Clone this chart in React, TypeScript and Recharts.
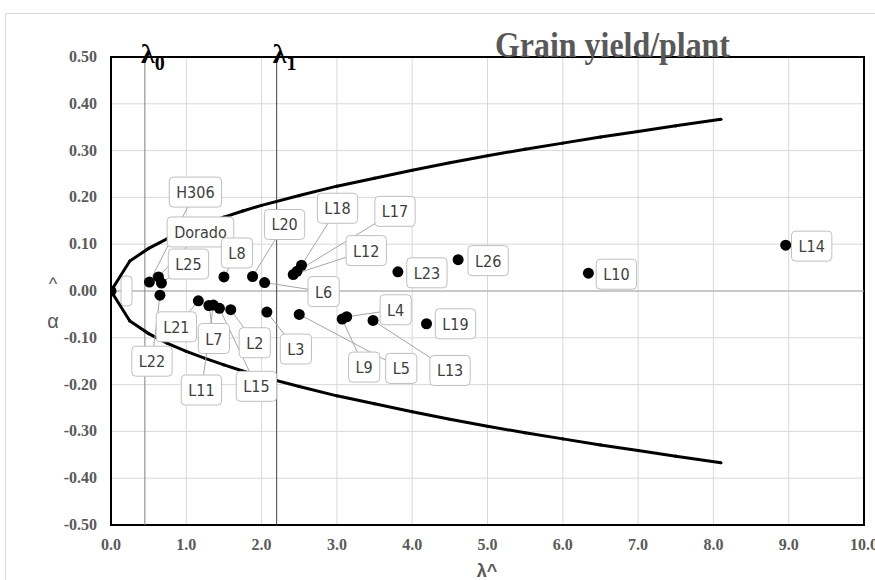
import React from "react";
import {
  ScatterChart,
  Scatter,
  XAxis,
  YAxis,
  CartesianGrid,
  ReferenceLine,
  ReferenceArea,
} from "recharts";

// genotypes and their (lambda^, alpha^) estimates
const genotypes = [
  "", "H306", "Dorado", "L25", "L22", "L8", "L20", "L6", "L12", "L17", "L18",
  "L23", "L26", "L4", "L9", "L5", "L13", "L19", "L3", "L21", "L7", "L11",
  "L15", "L2", "L10", "L14",
];
const lambdaHat = [
  0.0, 0.51, 0.63, 0.67, 0.65, 1.5, 1.88, 2.04, 2.42, 2.47, 2.53,
  3.81, 4.61, 3.13, 3.07, 2.5, 3.48, 4.19, 2.07, 1.16, 1.3, 1.36,
  1.44, 1.59, 6.34, 8.96,
];
const alphaHat = [
  0.0, 0.019, 0.03, 0.017, -0.009, 0.03, 0.031, 0.018, 0.035, 0.042, 0.055,
  0.041, 0.067, -0.055, -0.06, -0.05, -0.063, -0.07, -0.045, -0.021, -0.031, -0.03,
  -0.037, -0.04, 0.038, 0.098,
];

// confidence boundary curves
const curveLambda = [
  0, 0.25, 0.5, 0.75, 1, 1.25, 1.5, 1.75, 2, 2.5, 3, 3.5, 4, 4.5, 5, 5.5, 6,
  6.5, 7, 7.5, 8.1,
];
const curveUpper = [
  0, 0.064, 0.091, 0.112, 0.129, 0.144, 0.158, 0.171, 0.183, 0.204, 0.224,
  0.241, 0.258, 0.274, 0.289, 0.303, 0.316, 0.329, 0.341, 0.353, 0.367,
];
const curveLower = [
  0, -0.064, -0.091, -0.112, -0.129, -0.144, -0.158, -0.171, -0.183, -0.204,
  -0.224, -0.241, -0.258, -0.274, -0.289, -0.303, -0.316, -0.329, -0.341,
  -0.353, -0.367,
];

const lambda0 = 0.45;
const lambda1 = 2.2;

const xTicks = [0, 1, 2, 3, 4, 5, 6, 7, 8, 9, 10];
const yTicks = [-0.5, -0.4, -0.3, -0.2, -0.1, 0, 0.1, 0.2, 0.3, 0.4, 0.5];

// label box offsets (px from the dot) – layout only
const labelOffset: Record<string, [number, number]> = {
  "": [15.5, 0],
  H306: [46, -90],
  Dorado: [42, -45],
  L25: [27, -19],
  L22: [-8, 66],
  L8: [13, -24],
  L20: [32, -52],
  L6: [59, 9],
  L12: [73, -24],
  L17: [98, -60],
  L18: [36, -57],
  L23: [29, 1],
  L26: [30, 1],
  L4: [49, -7],
  L9: [22, 48],
  L5: [102, 54],
  L13: [77, 50],
  L19: [29, 0],
  L3: [29, 37],
  L21: [-22, 26],
  L7: [5, 33],
  L11: [-12, 85],
  L15: [37, 78],
  L2: [24, 33],
  L10: [28, 1],
  L14: [26, 1],
};
const noLeader = new Set(["", "L10", "L14", "L19", "L23", "L26"]);

const points = genotypes.map((name, i) => ({
  name,
  x: lambdaHat[i],
  y: alphaHat[i],
}));
const upper = curveLambda.map((x, i) => ({ x, y: curveUpper[i] }));
const lower = curveLambda.map((x, i) => ({ x, y: curveLower[i] }));

const labelFont = "'DejaVu Sans Condensed', 'Liberation Sans Narrow', sans-serif";
const labelSize = 16;
const serif = "'Liberation Serif', 'Times New Roman', serif";
const gray = "#595959";

let ctx: CanvasRenderingContext2D | null = null;
function measure(s: string) {
  if (!ctx && typeof document !== "undefined") {
    ctx = document.createElement("canvas").getContext("2d");
  }
  if (!ctx) return s.length * 9;
  ctx.font = `${labelSize}px ${labelFont}`;
  return ctx.measureText(s).width;
}

const Leader = (props: any) => {
  const { cx, cy, payload } = props;
  const name = payload.name;
  if (noLeader.has(name)) return <g />;
  const [dx, dy] = labelOffset[name] || [0, 0];
  return (
    <line x1={cx} y1={cy} x2={cx + dx} y2={cy + dy} stroke="#a6a6a6" strokeWidth={1} />
  );
};

const Dot = (props: any) => <circle cx={props.cx} cy={props.cy} r={5.5} fill="#000" />;

const Box = (props: any) => {
  const { cx, cy, payload } = props;
  const name = payload.name;
  const [dx, dy] = labelOffset[name] || [0, 0];
  const w = name === "" ? 11 : measure(name) + 14;
  const h = 30;
  return (
    <g>
      <rect
        x={cx + dx - w / 2}
        y={cy + dy - h / 2}
        width={w}
        height={h}
        rx={4}
        fill="#fff"
        stroke="#bfbfbf"
        strokeWidth={1}
      />
      <text
        x={cx + dx}
        y={cy + dy}
        dy={6}
        textAnchor="middle"
        fontFamily={labelFont}
        fontSize={labelSize}
        fill="#404040"
      >
        {name}
      </text>
    </g>
  );
};

const CurveDot = (props: any) => <circle cx={props.cx} cy={props.cy} r={1.6} fill="#000" />;

const XTick = (props: any) => {
  const { x, y, payload } = props;
  return (
    <text x={x} y={y} dy={17} textAnchor="middle" fontFamily={serif} fontWeight="bold" fontSize={16} fill={gray}>
      {payload.value.toFixed(1)}
    </text>
  );
};

const YTick = (props: any) => {
  const { x, y, payload } = props;
  return (
    <text x={x - 6} y={y} dy={5} textAnchor="end" fontFamily={serif} fontWeight="bold" fontSize={16} fill={gray}>
      {payload.value.toFixed(2)}
    </text>
  );
};

const lambdaLabel = (sub: string) => (props: any) => {
  const vb = props.viewBox || {};
  return (
    <text x={vb.x - 4} y={63} fontFamily={serif} fontWeight="bold" fontSize={28} fill="#000">
      λ
      <tspan fontSize={20} dy={7}>
        {sub}
      </tspan>
    </text>
  );
};

export default function App() {
  return (
    <div style={{ position: "absolute", left: 0, top: 0, width: 875, height: 580, overflow: "hidden", background: "#fff" }}>
      <div
        style={{
          position: "absolute",
          left: 5,
          top: 13,
          width: 900,
          height: 600,
          borderTop: "1px solid #d9d9d9",
          borderLeft: "1px solid #d9d9d9",
        }}
      />
      <div style={{ position: "absolute", left: 0, top: 0 }}>
        <ScatterChart width={875} height={580} margin={{ top: 57, right: 11, bottom: 0, left: 0 }}>
          <CartesianGrid stroke="#d9d9d9" />
          <XAxis
            type="number"
            dataKey="x"
            domain={[0, 10]}
            ticks={xTicks}
            tick={<XTick />}
            tickLine={false}
            axisLine={false}
            height={55}
            allowDataOverflow
          />
          <YAxis
            type="number"
            dataKey="y"
            domain={[-0.5, 0.5]}
            ticks={yTicks}
            tick={<YTick />}
            tickLine={false}
            axisLine={false}
            width={111}
            allowDataOverflow
          />
          <ReferenceLine y={0} stroke="#a6a6a6" strokeWidth={1} />
          <ReferenceLine x={lambda0} stroke="#7f7f7f" strokeWidth={1} label={lambdaLabel("0")} />
          <ReferenceLine x={lambda1} stroke="#404040" strokeWidth={1} label={lambdaLabel("1")} />
          <ReferenceArea x1={0} x2={10} y1={-0.5} y2={0.5} fill="none" stroke="#000" strokeWidth={2} />
          <Scatter data={upper} line={{ stroke: "#000", strokeWidth: 3 }} lineType="joint" shape={<CurveDot />} isAnimationActive={false} />
          <Scatter data={lower} line={{ stroke: "#000", strokeWidth: 3 }} lineType="joint" shape={<CurveDot />} isAnimationActive={false} />
          <Scatter data={points} shape={<Leader />} isAnimationActive={false} />
          <Scatter data={points} shape={<Dot />} isAnimationActive={false} />
          <Scatter data={points} shape={<Box />} isAnimationActive={false} />
        </ScatterChart>
      </div>
      <svg width={875} height={580} style={{ position: "absolute", left: 0, top: 0, pointerEvents: "none" }}>
        <text
          x={495}
          y={57}
          fontFamily={serif}
          fontWeight="bold"
          fontSize={36}
          fill={gray}
          textLength={235}
          lengthAdjust="spacingAndGlyphs"
        >
          Grain yield/plant
        </text>
        <text x={487} y={577} textAnchor="middle" fontFamily="'Liberation Sans', sans-serif" fontWeight="bold" fontSize={18} fill={gray}>
          λ^
        </text>
        <text x={53} y={290} textAnchor="middle" fontFamily="'Liberation Sans', sans-serif" fontSize={18} fill={gray}>
          ^
        </text>
        <text x={53} y={328} textAnchor="middle" fontFamily="'Liberation Sans', sans-serif" fontSize={20} fill={gray}>
          α
        </text>
      </svg>
    </div>
  );
}
